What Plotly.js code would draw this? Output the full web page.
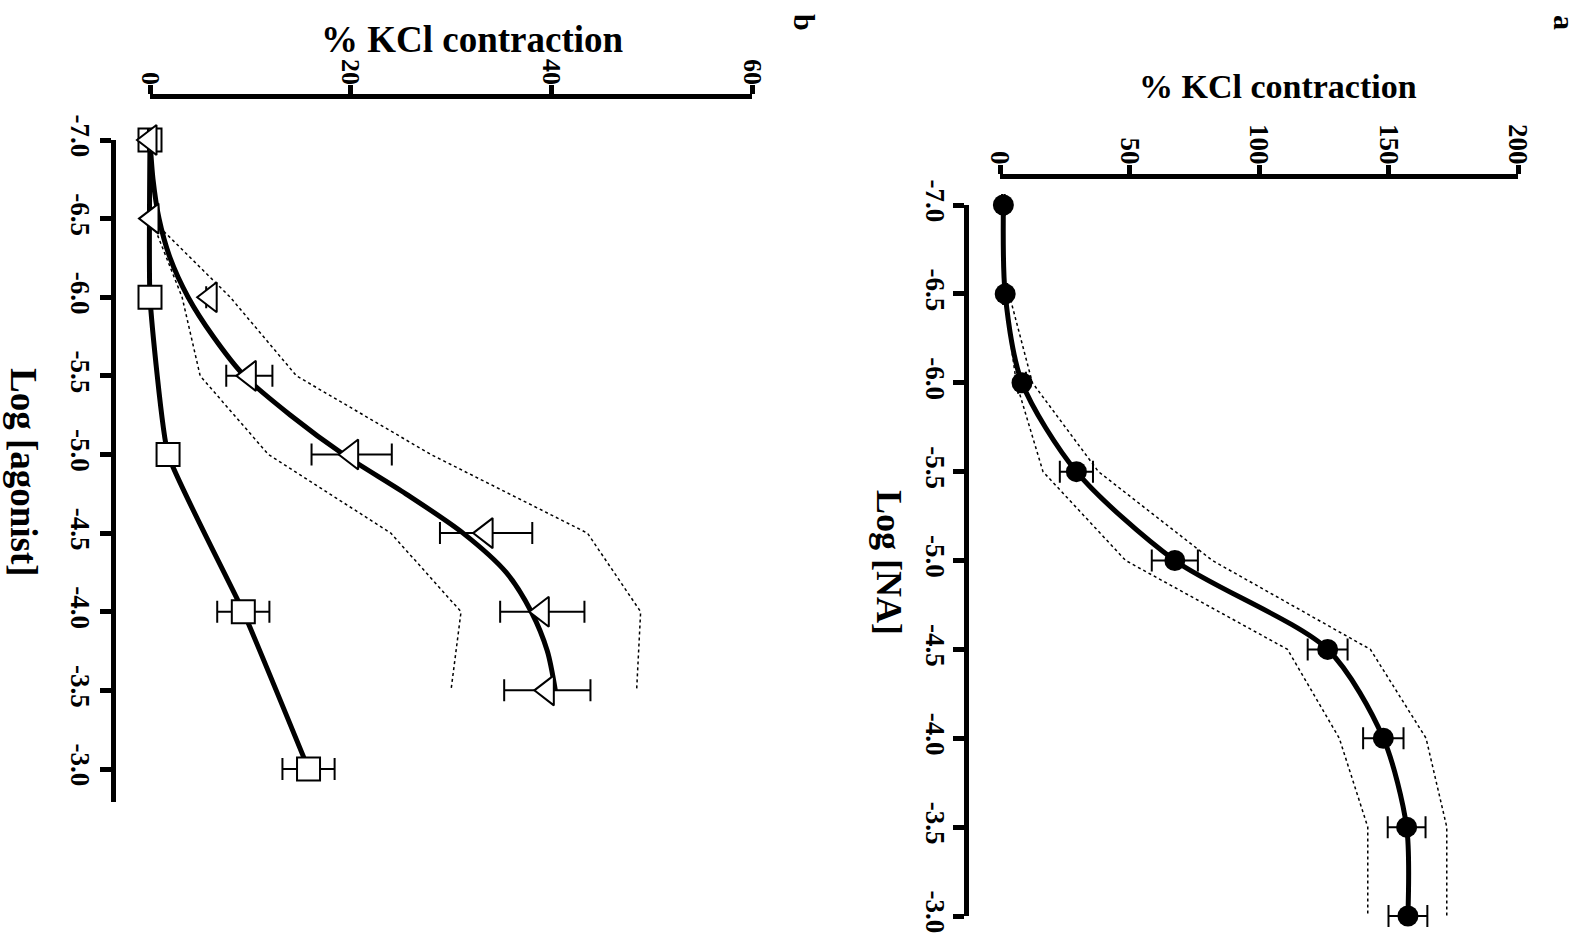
<!DOCTYPE html>
<html><head><meta charset="utf-8">
<script src="https://cdn.plot.ly/plotly-3.0.1.min.js"></script>
<style>html,body{margin:0;padding:0;background:#fff;}#chart{width:1587px;height:946px;}</style>
</head><body><div id="chart"></div>
<script>
// ---------------- DATA ----------------
// Panel a: noradrenaline (NA)
const logNA  = [-7.0, -6.5, -6.0, -5.5, -5.0, -4.5, -4.0, -3.5, -3.0];
const naMean = [1.3, 2.0, 8.5, 29.5, 67.5, 126.5, 148.0, 157.0, 157.5];
const naSem  = [0.5, 0.8, 1.5, 6.4, 8.9, 7.7, 7.8, 7.3, 7.5];
const bandConcA = [-6.5, -6.0, -5.5, -5.0, -4.5, -4.0, -3.5, -3.0];
const naUpper = [3.5, 12.5, 38.0, 82.0, 143.0, 164.5, 172.5, 172.5];
const naLower = [1.5, 6.3, 16.6, 48.5, 111.0, 131.0, 142.0, 142.0];

// Panel b: agonists (triangles with fitted curve, squares)
const logAgo  = [-7.0, -6.5, -6.0, -5.5, -5.0, -4.5, -4.0, -3.5];
const triMean = [0.0, 0.2, 6.0, 9.9, 20.1, 33.5, 39.1, 39.6];
const triSem  = [0.2, 0.3, 0.4, 2.3, 4.0, 4.6, 4.2, 4.3];
const fitConcB = [-7.0, -6.75, -6.5, -6.25, -6.0, -5.75, -5.5, -5.25, -5.0, -4.75, -4.5, -4.25, -4.0, -3.75, -3.5];
const triFit   = [0.0, 0.3, 0.9, 2.0, 3.8, 6.3, 9.4, 14.0, 19.3, 25.5, 31.2, 35.5, 38.0, 39.6, 40.4];
const bandConcB = [-6.5, -6.0, -5.5, -5.0, -4.5, -4.0, -3.5];
const triUpper = [0.1, 8.0, 14.6, 28.0, 43.6, 48.9, 48.5];
const triLower = [0.1, 3.2, 5.0, 11.8, 24.0, 31.0, 30.0];
const logSq  = [-7.0, -6.0, -5.0, -4.0, -3.0];
const sqMean = [0.0, 0.0, 1.8, 9.3, 15.8];
const sqSem  = [0.2, 0.3, 0.8, 2.6, 2.6];

// Tick labels
const concTickVals = [-7.0, -6.5, -6.0, -5.5, -5.0, -4.5, -4.0, -3.5, -3.0];
const concTickText = ['-7.0', '-6.5', '-6.0', '-5.5', '-5.0', '-4.5', '-4.0', '-3.5', '-3.0'];
const valTicksA = [0, 50, 100, 150, 200];
const valTicksB = [0, 20, 40, 60];

// ---------------- GEOMETRY ----------------
const W = 1587, H = 946;
const fx = px => px / W;
const fy = py => 1 - py / H;
const FONT = 'Liberation Serif, Times New Roman, serif';

function buildAxes(g, ids) {
  const kv = (g.valPx1 - g.valPx0) / (g.valMax - g.valMin);
  const kc = (g.concBot - g.concTop) / 4; // px per log unit (-7 .. -3)
  const pyc = c => g.concTop + (c + 7) * kc;
  const tickFont = s => ({family: FONT, size: s, weight: 'bold', color: '#000'});
  const pv = g.valPad, pc = 0.15;
  const axes = {};
  axes[ids.dx] = {visible: false, range: [g.valMin - pv, g.valMax + pv],
    domain: [fx(g.valPx0 - pv * kv), fx(g.valPx1 + pv * kv)], anchor: ids.dyShort, fixedrange: true};
  axes[ids.dy] = {visible: false, range: [-3 + pc, -7 - pc],
    domain: [fy(pyc(-3 + pc)), fy(pyc(-7 - pc))], anchor: ids.dxShort, fixedrange: true};
  axes[ids.vx] = {range: [g.valMin, g.valMax], domain: [fx(g.valPx0), fx(g.valPx1)],
    anchor: 'free', position: fy(g.valAxisY), side: 'top',
    showline: true, linewidth: 5, linecolor: '#000', ticks: 'outside', ticklen: 9, tickwidth: 5,
    tickcolor: '#000', tickvals: g.valTicks, ticktext: g.valTicks.map(String), tickangle: 90,
    tickfont: tickFont(g.valTickSize), showgrid: false, zeroline: false, fixedrange: true, ticklabelstandoff: -9};
  axes[ids.vy] = {range: [g.concLineEnd, -7], domain: [fy(pyc(g.concLineEnd)), fy(g.concTop)],
    anchor: 'free', position: fx(g.concAxisX), side: 'left',
    showline: true, linewidth: 5, linecolor: '#000', ticks: 'outside', ticklen: 11, tickwidth: 5,
    tickcolor: '#000', tickvals: concTickVals, ticktext: concTickText, tickangle: 90,
    tickfont: tickFont(g.tickSize), showgrid: false, zeroline: false, fixedrange: true, ticklabelstandoff: g.concStandoff};
  return axes;
}

const geoA = {valPx0: 1000, valPx1: 1518, valMin: 0, valMax: 200, valAxisY: 176, valPad: 15,
  concTop: 205, concBot: 916, concAxisX: 966, concLineEnd: -3.0, valTicks: valTicksA,
  tickSize: 27, valTickSize: 27, concStandoff: -5};
const geoB = {valPx0: 150, valPx1: 752, valMin: 0, valMax: 60, valAxisY: 96, valPad: 3,
  concTop: 140, concBot: 769, concAxisX: 113, concLineEnd: -2.79, valTicks: valTicksB,
  tickSize: 27, valTickSize: 26, concStandoff: -3};

const axesA = buildAxes(geoA, {dx: 'xaxis', dy: 'yaxis', dxShort: 'x', dyShort: 'y', vx: 'xaxis2', vy: 'yaxis2'});
const axesB = buildAxes(geoB, {dx: 'xaxis3', dy: 'yaxis3', dxShort: 'x3', dyShort: 'y3', vx: 'xaxis4', vy: 'yaxis4'});

const blk = '#000';
const dotted = {color: blk, width: 1.5, dash: 'dot'};
const errX = arr => ({type: 'data', array: arr, visible: true, color: blk, thickness: 2, width: 11});

const traces = [
  // display-axis frames (invisible)
  {x: [valTicksA[0], valTicksA[valTicksA.length - 1]], y: [concTickVals[0], concTickVals[concTickVals.length - 1]],
   xaxis: 'x2', yaxis: 'y2', mode: 'markers', marker: {opacity: 0}, hoverinfo: 'skip', showlegend: false},
  {x: [valTicksB[0], valTicksB[valTicksB.length - 1]], y: [concTickVals[0], concTickVals[concTickVals.length - 1]],
   xaxis: 'x4', yaxis: 'y4', mode: 'markers', marker: {opacity: 0}, hoverinfo: 'skip', showlegend: false},

  // Panel a
  {x: naUpper, y: bandConcA, xaxis: 'x', yaxis: 'y', mode: 'lines', line: dotted, showlegend: false},
  {x: naLower, y: bandConcA, xaxis: 'x', yaxis: 'y', mode: 'lines', line: dotted, showlegend: false},
  {x: naMean, y: logNA, xaxis: 'x', yaxis: 'y', mode: 'lines+markers', cliponaxis: false,
   line: {color: blk, width: 5, shape: 'spline', smoothing: 0.8},
   marker: {symbol: 'circle', size: 21, color: blk}, error_x: errX(naSem), showlegend: false},

  // Panel b
  {x: triUpper, y: bandConcB, xaxis: 'x3', yaxis: 'y3', mode: 'lines', line: dotted, showlegend: false},
  {x: triLower, y: bandConcB, xaxis: 'x3', yaxis: 'y3', mode: 'lines', line: dotted, showlegend: false},
  {x: triFit, y: fitConcB, xaxis: 'x3', yaxis: 'y3', mode: 'lines',
   line: {color: blk, width: 5, shape: 'spline', smoothing: 0.8}, showlegend: false},
  {x: sqMean, y: logSq, xaxis: 'x3', yaxis: 'y3', mode: 'lines+markers', cliponaxis: false,
   line: {color: blk, width: 5, shape: 'spline', smoothing: 0.4},
   marker: {symbol: 'square', size: 23, color: '#fff', line: {color: blk, width: 2}},
   error_x: errX(sqSem), showlegend: false},
  {x: triMean, y: logAgo, xaxis: 'x3', yaxis: 'y3', mode: 'markers', cliponaxis: false,
   marker: {symbol: 'triangle-left', size: 26, color: '#fff', line: {color: blk, width: 2}},
   error_x: errX(triSem), showlegend: false}
];

const titleFont = s => ({family: FONT, size: s, weight: 'bold', color: '#000'});
const ann = (text, px, py, size, angle) => ({text, x: fx(px), y: fy(py), xref: 'paper', yref: 'paper',
  showarrow: false, xanchor: 'center', yanchor: 'middle', textangle: angle, font: titleFont(size)});

const layout = Object.assign({
  width: W, height: H, margin: {l: 0, r: 0, t: 0, b: 0},
  paper_bgcolor: '#fff', plot_bgcolor: 'rgba(0,0,0,0)', showlegend: false,
  annotations: [
    ann('% KCl contraction', 1278, 86, 34, 0),
    ann('% KCl contraction', 472, 39, 37, 0),
    ann('Log [NA]', 889, 562, 36, 90),
    ann('Log [agonist]', 24, 472, 37, 90),
    ann('a', 1565, 22, 30, 90),
    ann('b', 805, 22, 30, 90)
  ]
}, axesA, axesB);

Plotly.newPlot('chart', traces, layout, {displayModeBar: false, staticPlot: true});
</script></body></html>
